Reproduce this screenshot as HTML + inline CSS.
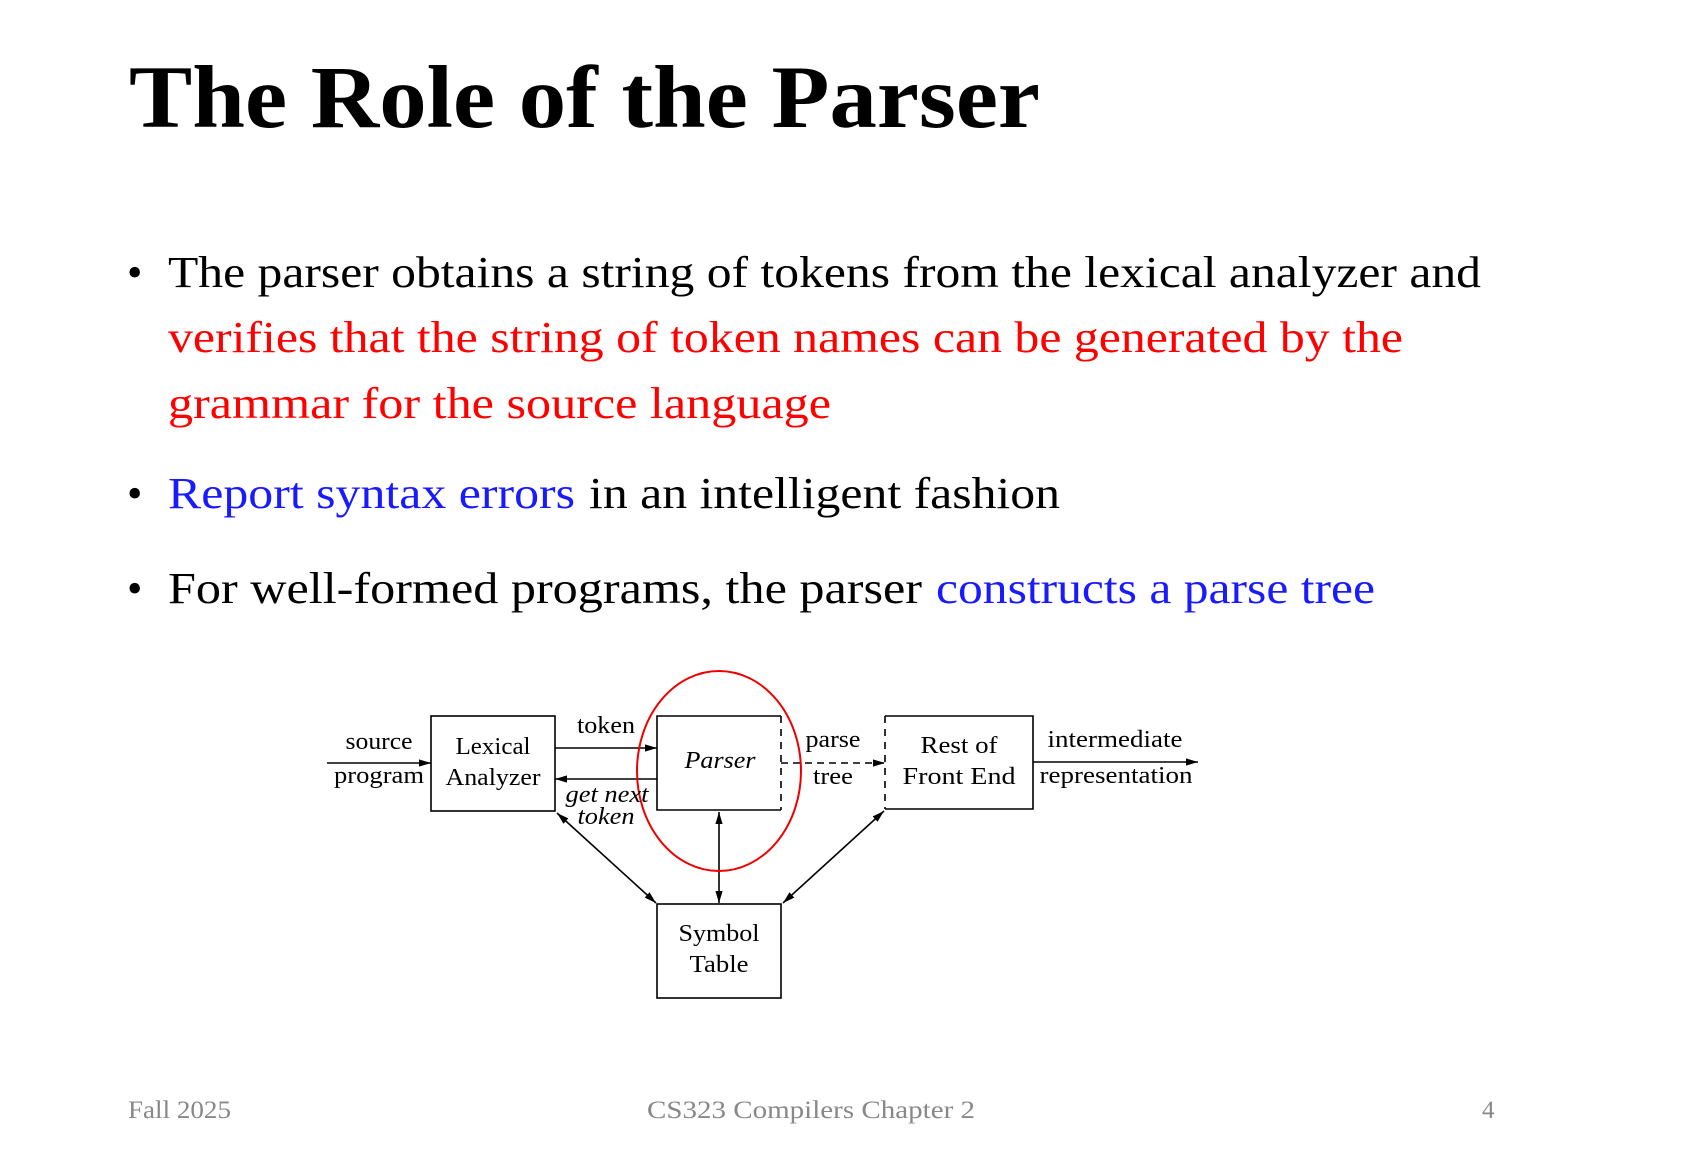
<!DOCTYPE html>
<html><head><meta charset="utf-8"><style>html,body{margin:0;padding:0;background:#fff}svg{display:block}</style></head>
<body>
<svg width="1702" height="1160" viewBox="0 0 1702 1160" xmlns="http://www.w3.org/2000/svg">
<defs>
<marker id="b" viewBox="0 0 10 10" refX="10" refY="5" markerWidth="16" markerHeight="12" markerUnits="userSpaceOnUse" orient="auto-start-reverse"><path d="M0,2 L10,5 L0,8 z" fill="#000"/></marker>
</defs>
<g font-family="Liberation Serif, serif">
<text x="129" y="127" font-size="89" font-weight="bold" textLength="911" lengthAdjust="spacingAndGlyphs">The Role of the Parser</text>
<g font-size="44">
<text x="127" y="287">•</text>
<text x="168" y="287" textLength="1313" lengthAdjust="spacingAndGlyphs">The parser obtains a string of tokens from the lexical analyzer and</text>
<text x="168" y="352" fill="#ff0000" textLength="1235" lengthAdjust="spacingAndGlyphs">verifies that the string of token names can be generated by the</text>
<text x="168" y="418" fill="#ff0000" textLength="663" lengthAdjust="spacingAndGlyphs">grammar for the source language</text>
<text x="127" y="508">•</text>
<text x="168" y="508" fill="#1a1aff" textLength="407" lengthAdjust="spacingAndGlyphs">Report syntax errors</text>
<text x="589" y="508" textLength="471" lengthAdjust="spacingAndGlyphs">in an intelligent fashion</text>
<text x="127" y="603">•</text>
<text x="168" y="603" textLength="754" lengthAdjust="spacingAndGlyphs">For well-formed programs, the parser</text>
<text x="936" y="603" fill="#1a1aff" textLength="439" lengthAdjust="spacingAndGlyphs">constructs a parse tree</text>
</g>
<g font-size="25" fill="#888">
<text x="128" y="1118" textLength="103" lengthAdjust="spacingAndGlyphs">Fall 2025</text>
<text x="647" y="1118" textLength="328" lengthAdjust="spacingAndGlyphs">CS323 Compilers Chapter 2</text>
<text x="1482" y="1118">4</text>
</g>
</g>
<g stroke="#000" stroke-width="1.6" fill="none">
<rect x="431" y="716" width="124" height="95"/>
<path d="M781,716 L657,716 L657,810 L781,810"/>
<path d="M781,716 L781,810" stroke-dasharray="7,6"/>
<path d="M885,716 L1033,716 L1033,809 L885,809"/>
<path d="M885,716 L885,809" stroke-dasharray="7,6"/>
<rect x="657" y="904" width="124" height="94"/>
<line x1="327" y1="763" x2="431" y2="763" marker-end="url(#b)"/>
<line x1="555" y1="748" x2="657" y2="748" marker-end="url(#b)"/>
<line x1="657" y1="779" x2="555" y2="779" marker-end="url(#b)"/>
<line x1="781" y1="763" x2="885" y2="763" stroke-dasharray="7,5" marker-end="url(#b)"/>
<line x1="1033" y1="762" x2="1198" y2="762" marker-end="url(#b)"/>
<line x1="557" y1="813" x2="656" y2="903" marker-start="url(#b)" marker-end="url(#b)"/>
<line x1="719" y1="812" x2="719" y2="903" marker-start="url(#b)" marker-end="url(#b)"/>
<line x1="884" y1="811" x2="783" y2="903" marker-start="url(#b)" marker-end="url(#b)"/>
<ellipse cx="719" cy="771" rx="82" ry="100" stroke="#e00" stroke-width="2"/>
</g>
<g font-family="Liberation Serif, serif" font-size="24" text-anchor="middle">
<text x="379" y="749" textLength="67" lengthAdjust="spacingAndGlyphs">source</text>
<text x="379" y="783" textLength="90" lengthAdjust="spacingAndGlyphs">program</text>
<text x="493" y="754" textLength="75" lengthAdjust="spacingAndGlyphs">Lexical</text>
<text x="493" y="785" textLength="95" lengthAdjust="spacingAndGlyphs">Analyzer</text>
<text x="606" y="733" textLength="58" lengthAdjust="spacingAndGlyphs">token</text>
<text x="720" y="768" font-style="italic" textLength="71" lengthAdjust="spacingAndGlyphs">Parser</text>
<text x="607" y="802" font-style="italic" textLength="83" lengthAdjust="spacingAndGlyphs">get next</text>
<text x="606" y="824" font-style="italic" textLength="57" lengthAdjust="spacingAndGlyphs">token</text>
<text x="833" y="747" textLength="55" lengthAdjust="spacingAndGlyphs">parse</text>
<text x="833" y="784" textLength="40" lengthAdjust="spacingAndGlyphs">tree</text>
<text x="959" y="753" textLength="77" lengthAdjust="spacingAndGlyphs">Rest of</text>
<text x="959" y="784" textLength="113" lengthAdjust="spacingAndGlyphs">Front End</text>
<text x="1115" y="747" textLength="135" lengthAdjust="spacingAndGlyphs">intermediate</text>
<text x="1116" y="783" textLength="153" lengthAdjust="spacingAndGlyphs">representation</text>
<text x="719" y="941" textLength="81" lengthAdjust="spacingAndGlyphs">Symbol</text>
<text x="719" y="972" textLength="59" lengthAdjust="spacingAndGlyphs">Table</text>
</g>
</svg>
</body></html>
